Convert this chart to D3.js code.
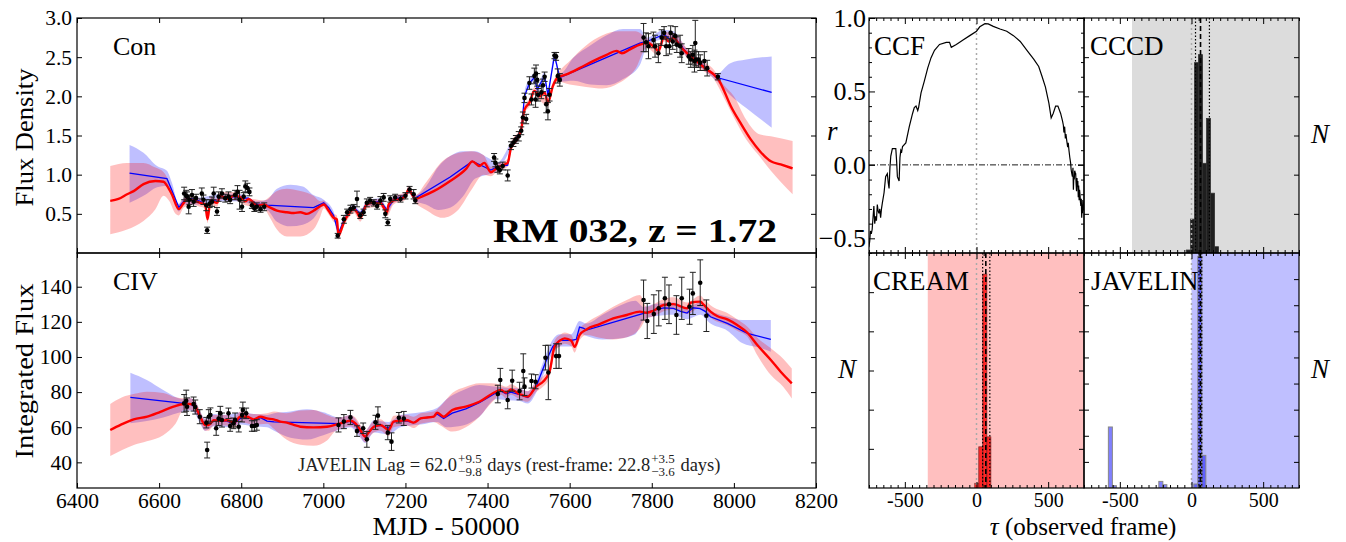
<!DOCTYPE html>
<html><head><meta charset="utf-8">
<script src="https://cdn.jsdelivr.net/npm/d3@7"></script>
<style>
body{margin:0;background:#fff}
text,tspan{font-family:"Liberation Serif","DejaVu Serif",serif}
</style></head>
<body><svg id="c" width="1346" height="542"></svg>
<script>
// ---------------- DATA ----------------
// Continuum (Con) light curve: CREAM model [mjd, flux]
const conCream = [[6481,0.666],[6501,0.69],[6522,0.75],[6538,0.79],[6562,0.88],[6591,0.92],[6611,0.91],[6619,0.86],[6631,0.75],[6648,0.56],[6660,0.64],[6668,0.69],[6684,0.67],[6700,0.64],[6712,0.62],[6718,0.43],[6725,0.67],[6741,0.64],[6749,0.73],[6765,0.69],[6782,0.73],[6798,0.71],[6810,0.66],[6818,0.69],[6830,0.64],[6838,0.60],[6855,0.62],[6863,0.60],[6887,0.54],[6911,0.52],[6928,0.51],[6944,0.52],[6960,0.50],[6976,0.54],[6993,0.60],[7001,0.62],[7013,0.54],[7025,0.45],[7033,0.43],[7037,0.22],[7041,0.26],[7050,0.39],[7062,0.50],[7074,0.56],[7082,0.52],[7090,0.45],[7098,0.54],[7106,0.62],[7123,0.64],[7139,0.64],[7147,0.58],[7155,0.52],[7159,0.62],[7171,0.67],[7188,0.69],[7200,0.73],[7208,0.81],[7216,0.75],[7224,0.69],[7244,0.73],[7269,0.79],[7309,0.92],[7347,1.07],[7363,1.17],[7380,1.11],[7392,1.15],[7408,1.03],[7424,1.09],[7441,1.13],[7449,1.15],[7457,1.34],[7469,1.43],[7482,1.58],[7490,1.83],[7502,1.92],[7514,2.07],[7527,2.00],[7539,2.05],[7547,1.92],[7559,2.13],[7571,2.24],[7592,2.28],[7624,2.36],[7657,2.45],[7690,2.53],[7714,2.58],[7727,2.55],[7747,2.60],[7771,2.66],[7788,2.68],[7804,2.64],[7816,2.58],[7830,2.76],[7841,2.70],[7853,2.75],[7869,2.64],[7886,2.55],[7902,2.48],[7918,2.41],[7935,2.34],[7951,2.28],[7963,2.21],[7976,2.07],[7992,1.88],[8016,1.66],[8041,1.45],[8065,1.29],[8090,1.17],[8114,1.13],[8143,1.08]];
// CREAM band [mjd, lo, hi]
const conCreamBand = [[6481,0.24,1.11],[6522,0.30,1.15],[6562,0.41,1.15],[6591,0.56,1.09],[6611,0.73,1.03],[6625,0.66,0.90],[6640,0.50,0.66],[6648,0.48,0.62],[6660,0.58,0.70],[6684,0.62,0.72],[6700,0.59,0.69],[6712,0.57,0.67],[6718,0.38,0.48],[6725,0.62,0.72],[6741,0.59,0.69],[6749,0.68,0.78],[6782,0.68,0.78],[6810,0.61,0.71],[6830,0.59,0.69],[6855,0.57,0.67],[6870,0.45,0.72],[6887,0.30,0.79],[6911,0.21,0.82],[6944,0.21,0.79],[6976,0.30,0.73],[6993,0.47,0.66],[7001,0.57,0.67],[7013,0.49,0.59],[7025,0.40,0.50],[7033,0.38,0.48],[7037,0.17,0.27],[7041,0.21,0.31],[7050,0.34,0.44],[7062,0.45,0.55],[7074,0.51,0.61],[7090,0.40,0.50],[7106,0.57,0.67],[7139,0.59,0.69],[7155,0.47,0.57],[7171,0.62,0.72],[7200,0.68,0.78],[7208,0.76,0.86],[7224,0.64,0.74],[7250,0.55,0.90],[7290,0.45,1.17],[7330,0.56,1.28],[7360,0.80,1.30],[7390,1.00,1.25],[7408,0.98,1.10],[7424,1.04,1.14],[7449,1.10,1.20],[7457,1.29,1.39],[7482,1.53,1.63],[7490,1.78,1.88],[7502,1.87,1.97],[7514,2.02,2.12],[7527,1.95,2.05],[7547,1.87,1.97],[7559,2.08,2.18],[7571,2.19,2.29],[7600,2.15,2.45],[7640,2.12,2.65],[7680,2.10,2.78],[7720,2.17,2.83],[7760,2.35,2.83],[7788,2.62,2.74],[7816,2.52,2.64],[7830,2.70,2.82],[7853,2.69,2.81],[7886,2.49,2.61],[7918,2.35,2.47],[7951,2.22,2.34],[7976,1.98,2.14],[8000,1.73,2.00],[8030,1.45,1.70],[8060,1.25,1.52],[8090,1.05,1.49],[8143,0.75,1.43]];
// JAVELIN model [mjd, flux]
const conJav = [[6528,1.02],[6619,0.95],[6631,0.80],[6648,0.58],[6660,0.66],[6668,0.70],[6684,0.69],[6700,0.66],[6718,0.60],[6725,0.68],[6741,0.66],[6749,0.72],[6765,0.70],[6782,0.72],[6798,0.70],[6818,0.70],[6838,0.62],[6855,0.62],[6863,0.61],[6976,0.58],[7001,0.64],[7013,0.58],[7025,0.48],[7037,0.25],[7050,0.42],[7074,0.58],[7090,0.50],[7106,0.63],[7139,0.66],[7155,0.55],[7171,0.68],[7200,0.73],[7208,0.80],[7224,0.70],[7309,0.97],[7363,1.17],[7380,1.13],[7408,1.06],[7424,1.10],[7449,1.12],[7457,1.37],[7482,1.56],[7490,2.00],[7502,2.17],[7514,2.24],[7521,2.09],[7539,2.26],[7547,2.02],[7563,2.52],[7576,2.24],[7771,2.68],[7788,2.70],[7830,2.79],[7846,2.72],[7853,2.77],[7869,2.66],[7886,2.55],[7918,2.42],[7959,2.24],[8092,2.05]];
const conJavBand = [[6528,0.64,1.38],[6562,0.73,1.28],[6595,0.84,1.11],[6619,0.86,1.05],[6631,0.74,0.90],[6648,0.53,0.63],[6660,0.62,0.70],[6700,0.62,0.71],[6760,0.66,0.76],[6800,0.66,0.75],[6838,0.58,0.66],[6863,0.55,0.68],[6887,0.40,0.82],[6920,0.34,0.87],[6950,0.36,0.85],[6976,0.44,0.74],[7001,0.60,0.68],[7025,0.44,0.53],[7037,0.21,0.30],[7050,0.38,0.46],[7074,0.54,0.62],[7090,0.46,0.54],[7106,0.59,0.67],[7139,0.62,0.70],[7155,0.51,0.59],[7171,0.64,0.72],[7200,0.69,0.77],[7208,0.76,0.84],[7224,0.66,0.74],[7250,0.62,0.85],[7280,0.55,1.10],[7310,0.58,1.24],[7340,0.72,1.30],[7370,0.95,1.30],[7400,1.00,1.22],[7425,1.05,1.16],[7457,1.33,1.41],[7482,1.52,1.60],[7490,1.94,2.06],[7502,2.12,2.22],[7514,2.19,2.29],[7521,2.04,2.14],[7539,2.21,2.31],[7547,1.97,2.07],[7563,2.46,2.57],[7576,2.19,2.29],[7610,2.20,2.50],[7650,2.15,2.65],[7690,2.14,2.78],[7730,2.22,2.86],[7771,2.40,2.86],[7788,2.63,2.75],[7830,2.73,2.85],[7853,2.71,2.83],[7886,2.50,2.60],[7918,2.37,2.47],[7959,2.19,2.29],[7990,2.02,2.42],[8030,1.85,2.47],[8092,1.60,2.51]];
// observed continuum [mjd, flux, err]
const conObs = [[6661,0.76,0.08],[6666,0.73,0.07],[6668,0.72,0.06],[6672,0.59,0.09],[6674,0.68,0.06],[6680,0.74,0.07],[6684,0.655,0.06],[6690,0.70,0.05],[6704,0.76,0.07],[6708,0.68,0.06],[6715,0.61,0.07],[6717,0.29,0.04],[6723,0.63,0.05],[6729,0.655,0.06],[6733,0.76,0.08],[6741,0.53,0.05],[6745,0.72,0.06],[6753,0.76,0.06],[6761,0.70,0.05],[6769,0.72,0.06],[6773,0.68,0.05],[6785,0.74,0.06],[6791,0.78,0.08],[6796,0.68,0.12],[6802,0.59,0.06],[6806,0.72,0.05],[6810,0.85,0.07],[6815,0.83,0.06],[6820,0.78,0.05],[6826,0.61,0.04],[6832,0.57,0.04],[6838,0.59,0.05],[6847,0.56,0.04],[6856,0.59,0.05],[7035,0.22,0.03],[7050,0.43,0.05],[7058,0.52,0.04],[7066,0.56,0.05],[7074,0.58,0.04],[7082,0.69,0.10],[7090,0.48,0.04],[7098,0.52,0.04],[7106,0.64,0.05],[7114,0.67,0.04],[7123,0.64,0.04],[7131,0.60,0.04],[7139,0.67,0.05],[7147,0.71,0.05],[7151,0.50,0.05],[7157,0.39,0.04],[7163,0.69,0.04],[7175,0.71,0.04],[7188,0.69,0.04],[7200,0.73,0.04],[7210,0.81,0.04],[7220,0.75,0.06],[7224,0.67,0.04],[7416,1.22,0.05],[7419,1.15,0.05],[7424,1.09,0.06],[7430,1.06,0.05],[7437,1.11,0.05],[7449,0.99,0.07],[7457,1.37,0.05],[7463,1.41,0.05],[7469,1.45,0.05],[7476,1.49,0.06],[7482,1.56,0.05],[7486,1.73,0.07],[7490,1.98,0.06],[7494,1.71,0.06],[7502,2.17,0.08],[7507,1.96,0.07],[7514,2.26,0.10],[7517,1.96,0.10],[7518,2.29,0.11],[7521,2.21,0.08],[7523,2.02,0.08],[7531,2.05,0.08],[7535,2.14,0.08],[7539,2.25,0.06],[7543,1.90,0.11],[7547,1.81,0.11],[7551,2.02,0.08],[7563,2.52,0.04],[7567,2.51,0.05],[7571,2.26,0.09],[7576,2.21,0.08],[7780,2.75,0.18],[7786,2.69,0.12],[7792,2.64,0.16],[7804,2.72,0.10],[7808,2.64,0.14],[7816,2.55,0.12],[7824,2.75,0.10],[7830,2.81,0.08],[7835,2.64,0.12],[7843,2.64,0.10],[7846,2.81,0.09],[7851,2.70,0.10],[7857,2.77,0.12],[7861,2.66,0.10],[7869,2.64,0.14],[7873,2.55,0.12],[7890,2.51,0.10],[7895,2.47,0.10],[7900,2.53,0.12],[7904,2.45,0.14],[7906,2.68,0.29],[7908,2.47,0.10],[7914,2.47,0.10],[7918,2.43,0.10],[7928,2.45,0.12],[7935,2.36,0.10],[7961,2.25,0.04]];

// CIV light curve
const civCream = [[6481,58.4],[6506,61.3],[6538,64.5],[6571,66],[6603,68.8],[6635,71.7],[6660,73.2],[6676,73.2],[6688,71.7],[6700,66],[6712,61.3],[6721,61.3],[6733,64],[6749,63.7],[6765,64],[6782,62.6],[6798,66],[6814,66],[6830,64.5],[6847,66],[6863,65],[6879,64.5],[6895,63.2],[6911,62.6],[6928,61.3],[6944,60.3],[6976,59.9],[7009,60.3],[7041,62.2],[7066,63.7],[7078,62.2],[7090,58.4],[7102,54.6],[7110,56.9],[7123,60.3],[7139,61.3],[7159,58.4],[7171,63.2],[7188,63.7],[7204,64],[7220,62.6],[7237,65],[7269,66],[7277,68.3],[7293,66],[7314,69.8],[7347,71.7],[7380,74.5],[7420,80.2],[7433,81.2],[7445,79.7],[7457,81.5],[7478,78.9],[7498,77.4],[7518,83.1],[7535,85.9],[7551,91.6],[7563,105.8],[7576,109.3],[7588,110.6],[7604,109.3],[7612,105.8],[7624,112.5],[7641,115.7],[7673,118.7],[7706,122],[7739,123.9],[7771,125.8],[7788,125.2],[7804,126.3],[7829,129.6],[7853,130.1],[7886,127.7],[7894,130.9],[7918,131.5],[7927,129.6],[7943,125.8],[7959,123.3],[7984,121.4],[8008,118.2],[8033,113.8],[8057,106.8],[8090,98.3],[8114,91.6],[8141,85]];
const civCreamBand = [[6481,43.6,73.2],[6510,47,77],[6540,50,79],[6570,52,80.2],[6610,55.5,79.5],[6640,62,77],[6660,70,76.5],[6676,70,76.5],[6688,68.5,75],[6700,63,69],[6712,58,64.5],[6721,58,64.5],[6733,61,67],[6765,61,67],[6782,59.5,65.5],[6798,63,69],[6830,61.5,67.5],[6863,62,68],[6880,59,69],[6910,53,68],[6944,50,69.5],[6976,49.5,69.8],[7009,52.5,67],[7030,58,65.5],[7041,59,65.5],[7066,60.5,67],[7078,59,65.5],[7090,55,61.5],[7102,51.5,58],[7110,54,60],[7123,57,63.5],[7139,58,64.5],[7159,55,61.5],[7171,60,66.5],[7204,61,67],[7220,59.5,66],[7237,62,68],[7269,63,69],[7285,61,72],[7314,57.5,79.5],[7347,60,83],[7380,66,85],[7410,74,85],[7433,78.5,84],[7445,76.5,83],[7457,78.5,84.5],[7478,76,82],[7498,74.5,80.5],[7518,80,86],[7535,83,89],[7551,88.5,94.5],[7563,102.5,109],[7576,106,112.5],[7588,107.5,114],[7604,106,112.5],[7612,102.5,109],[7624,109.5,116],[7641,112.5,119.5],[7673,111,123.9],[7706,110,128.6],[7739,111.2,132.4],[7771,116,135.3],[7788,122,128.5],[7804,123,130],[7829,126,133],[7853,127,134],[7886,124.5,131],[7918,128,135],[7927,126.5,133],[7943,122.5,129.5],[7984,118,125],[8008,115,121.5],[8033,111.5,117.2],[8057,101,111],[8090,89.7,104.9],[8120,83,99],[8141,76.4,93.5]];
const civJav = [[6530,77],[6660,73.6],[6676,73.2],[6688,71.2],[6700,65.5],[6712,61.5],[6721,62],[6733,64],[6749,63.5],[6765,63.5],[6782,62],[6798,65],[6814,66],[6830,64],[6847,65.5],[6863,63.5],[6880,63],[7040,62],[7066,63.5],[7078,61.5],[7090,57.5],[7102,54.5],[7110,57],[7123,60.5],[7139,61],[7159,59.5],[7171,63],[7188,63.5],[7204,63.5],[7220,62.5],[7237,65],[7269,66],[7277,67.5],[7293,65],[7314,68],[7347,70.5],[7380,74],[7420,79.5],[7433,80.5],[7445,79],[7457,80],[7478,78.5],[7498,77],[7518,83],[7543,98],[7559,106],[7576,109.5],[7604,109.5],[7616,110],[7624,117],[7633,116.5],[7641,115.3],[7780,124.8],[7804,126.5],[7829,128],[7853,127.7],[7870,126],[7886,125],[7900,128],[7918,127.5],[7930,126],[7943,122.9],[7984,119.1],[8033,113.4],[8090,110]];
const civJavBand = [[6530,62.2,91],[6570,63.5,86.9],[6610,65.5,81.2],[6660,69,76],[6676,69.5,76.5],[6688,67.5,75],[6700,62,69],[6712,58,65],[6733,60.5,67.5],[6765,60,67],[6798,61.5,68.5],[6830,60.5,67.5],[6863,60,67],[6880,58,68],[6920,54,69],[6960,53,70.2],[7000,55.5,68.5],[7040,58.5,65.5],[7066,60,67],[7090,54,61],[7102,51,58],[7123,57,64],[7159,56,63],[7188,60,67],[7237,61.5,68.5],[7277,63,71],[7300,60,76],[7340,61,81],[7380,66,84],[7420,76,83],[7445,75.5,82.5],[7478,75,82],[7498,73.5,80.5],[7518,79.5,86.5],[7543,94,102],[7559,102.5,110],[7576,106,113],[7604,106,113],[7624,113.5,120.5],[7641,112,119],[7680,110,124],[7720,110.5,129],[7760,113,132],[7780,121,128.5],[7804,123,130],[7853,124,131],[7886,121.5,128.5],[7918,124,131],[7943,119,126.5],[7984,115,123],[8020,108,121],[8060,105.5,121],[8090,103,121]];
const civObs = [[6661,73.6,5],[6666,75.1,6],[6668,71.7,5],[6684,73.2,4],[6688,71.5,4],[6699,66,4],[6715,62.6,3],[6717,47,4.5],[6721,66,4],[6725,67,4],[6739,59.4,4],[6745,65,4],[6749,67.9,4],[6753,64.1,4],[6769,67.9,3],[6773,60.7,3],[6781,62.2,3],[6785,64.1,4],[6794,60.3,3],[6802,67,4],[6804,69.8,4.5],[6812,67.9,3],[6826,60.7,3],[6832,60.7,3],[6838,61.3,3],[7037,61.3,4],[7050,63.2,4],[7066,65.6,4],[7082,57.8,3],[7097,59.4,3],[7106,53.1,4.5],[7127,62.8,4],[7133,66.6,5],[7157,56.9,4],[7166,51.8,5],[7184,65.4,3],[7196,65,4],[7425,78.9,5],[7431,86.9,6.6],[7449,75.5,5],[7460,86.5,6],[7478,80.6,5],[7487,92,9.8],[7490,83.1,5],[7507,86.3,4],[7517,85.9,4],[7541,99.6,7],[7548,91.2,15.5],[7567,100.5,7],[7574,100.5,7],[7780,132.4,11.4],[7789,120.5,10],[7805,124.4,11],[7817,127.7,10],[7832,133.4,12],[7842,130,11],[7860,123.9,11],[7873,133.4,12],[7892,128.6,10],[7900,136.2,12],[7918,142.3,13],[7933,123.5,9]];

// CCF [tau, r]
const ccf = [[-751,-0.56],[-745,-0.52],[-740,-0.45],[-734,-0.47],[-728,-0.44],[-722,-0.36],[-716,-0.28],[-710,-0.40],[-704,-0.35],[-698,-0.38],[-692,-0.27],[-687,-0.31],[-681,-0.33],[-675,-0.30],[-669,-0.36],[-663,-0.30],[-657,-0.26],[-645,-0.19],[-634,-0.08],[-622,-0.06],[-616,-0.12],[-610,-0.16],[-604,-0.02],[-598,0.06],[-587,0.11],[-563,0.11],[-557,0.02],[-552,-0.08],[-540,-0.11],[-534,0.05],[-528,0.10],[-522,0.09],[-516,0.125],[-493,0.15],[-469,0.26],[-446,0.35],[-434,0.39],[-422,0.40],[-410,0.37],[-404,0.39],[-387,0.49],[-364,0.57],[-340,0.66],[-317,0.73],[-293,0.78],[-258,0.82],[-211,0.834],[-188,0.834],[-176,0.80],[-141,0.82],[-94,0.85],[-47,0.88],[0,0.91],[23,0.94],[59,0.961],[82,0.96],[117,0.943],[164,0.925],[211,0.91],[258,0.88],[305,0.84],[352,0.78],[399,0.72],[434,0.67],[458,0.60],[481,0.53],[505,0.42],[521,0.32],[535,0.35],[552,0.40],[568,0.40],[587,0.35],[600,0.30],[606,0.27],[610,0.22],[615,0.26],[620,0.18],[624,0.21],[629,0.17],[636,0.12],[640,0.15],[645,0.10],[651,0.05],[657,0.01],[660,-0.03],[663,-0.05],[669,-0.08],[673,-0.02],[676,-0.17],[679,-0.08],[682,-0.10],[685,-0.04],[688,-0.05],[692,-0.06],[695,-0.13],[698,-0.18],[701,-0.09],[704,-0.15],[707,-0.11],[710,-0.22],[713,-0.14],[716,-0.24],[719,-0.17],[722,-0.20],[725,-0.25],[728,-0.28],[731,-0.23],[734,-0.36],[737,-0.27],[739,-0.33],[742,-0.24],[745,-0.25],[748,-0.31],[751,-0.28]];

// histograms: [bin left edge, count], bin width in days
const binWidth = 28;
const cccdHist = [[-35,76],[-7,865],[21,4860],[49,5064],[77,2290],[105,3435],[133,1527],[161,160]];
const creamHist = [[-12,120],[16,1051],[44,5460],[72,1305]];
const javHist = [[-580,2337],[-552,88],[-228,253],[-200,126],[16,153],[44,8870],[72,1249]];
// lags [median, lower bound, upper bound]
const cccdLag = [63, 28, 125];
const creamLag = [65, 43, 93];
const javLag = [62.0, 9.8, 9.5];      // value, minus, plus
const restLag = [22.8, 3.6, 3.5];
// allowed lag windows (shaded)
const cccdWindow = [-415, 750];
const creamWindow = [-340, 750];
const javWindow = [0, 750];

const conTicks = [0.5,1.0,1.5,2.0,2.5,3.0];
const civTicks = [40,60,80,100,120,140];
const mjdTicks = [6400,6600,6800,7000,7200,7400,7600,7800,8000,8200];
const tauTicks = [-500,0,500];
const rTicks = [-0.5,0.0,0.5,1.0];

// ---------------- SCALES ----------------
const svg = d3.select("#c");
const xL = d3.scaleLinear().domain([6400,8200]).range([77,816]);
const yCon = d3.scaleLinear().domain([0,3]).range([253,18]);
const yCiv = d3.scaleLinear().domain([25.4,159.2]).range([488,253]);
const xR1 = d3.scaleLinear().domain([-750,750]).range([869,1084]);
const xR2 = d3.scaleLinear().domain([-750,750]).range([1084,1299]);
const yR = d3.scaleLinear().domain([-0.6,1.0]).range([253,18]);
const yNccd = d3.scaleLinear().domain([0,6000]).range([253,18]);
const yNcream = d3.scaleLinear().domain([0,6000]).range([488,253]);
const yNjav = d3.scaleLinear().domain([0,9000]).range([488,253]);

const SERIF = "Liberation Serif, DejaVu Serif, serif";
const defs = svg.append("defs");
function clip(id,x,y){ defs.append("clipPath").attr("id",id).append("rect")
  .attr("x",x.range()[0]).attr("y",y.range()[1]).attr("width",x.range()[1]-x.range()[0]).attr("height",y.range()[0]-y.range()[1]); return "url(#"+id+")"; }

// ---------------- LIGHT CURVES ----------------
function lightCurve(id, y, cream, creamBand, jav, javBand, obs){
  const g = svg.append("g").attr("clip-path", clip(id,xL,y));
  const area = d3.area().x(d=>xL(d[0])).y0(d=>y(d[1])).y1(d=>y(d[2])).curve(d3.curveMonotoneX);
  g.append("path").datum(javBand).attr("d",area).attr("fill","rgba(0,0,255,0.25)");
  g.append("path").datum(creamBand).attr("d",area).attr("fill","rgba(255,0,0,0.25)");
  g.append("path").datum(jav).attr("d",d3.line().x(d=>xL(d[0])).y(d=>y(d[1])))
    .attr("fill","none").attr("stroke","#0000ff").attr("stroke-width",1.3);
  g.append("path").datum(cream).attr("d",d3.line().x(d=>xL(d[0])).y(d=>y(d[1])).curve(d3.curveMonotoneX))
    .attr("fill","none").attr("stroke","#ff0000").attr("stroke-width",2.4);
  const eb = g.append("g").attr("stroke","#222").attr("stroke-width",1);
  obs.forEach(d=>{
    const x = xL(d[0]), y0 = y(d[1]-d[2]), y1 = y(d[1]+d[2]);
    eb.append("line").attr("x1",x).attr("x2",x).attr("y1",y0).attr("y2",y1);
    eb.append("line").attr("x1",x-3).attr("x2",x+3).attr("y1",y0).attr("y2",y0);
    eb.append("line").attr("x1",x-3).attr("x2",x+3).attr("y1",y1).attr("y2",y1);
  });
  g.append("g").selectAll("circle").data(obs).join("circle")
    .attr("cx",d=>xL(d[0])).attr("cy",d=>y(d[1])).attr("r",2.3).attr("fill","#000");
}
lightCurve("cpCon", yCon, conCream, conCreamBand, conJav, conJavBand, conObs);
lightCurve("cpCiv", yCiv, civCream, civCreamBand, civJav, civJavBand, civObs);

// ---------------- AXES HELPERS ----------------
function axis(gen, scale, pos, vals, size, fmt, pad, fs){
  const a = gen(scale).tickValues(vals).tickSize(-size).tickPadding(pad).tickFormat(fmt||"");
  const g = svg.append("g").attr("transform",pos).call(a);
  g.select(".domain").remove();
  g.selectAll("line").attr("stroke","#000").attr("stroke-width",1);
  g.attr("font-family",SERIF);
  g.selectAll("text").attr("font-family",SERIF).attr("font-size",fs||20).attr("fill","#000");
  return g;
}
function frame(x,y){
  svg.append("rect").attr("x",x.range()[0]).attr("y",y.range()[1])
    .attr("width",x.range()[1]-x.range()[0]).attr("height",y.range()[0]-y.range()[1])
    .attr("fill","none").attr("stroke","#000").attr("stroke-width",1.2);
}
const fmt1 = d3.format(".1f");
const plain = d=>String(d);

// left panels axes
[[yCon,conTicks,fmt1],[yCiv,civTicks,plain]].forEach(([y,tv,f],i)=>{
  axis(d3.axisLeft, y, `translate(${xL.range()[0]},0)`, tv, 5, f, 5, 21.5);
  axis(d3.axisRight, y, `translate(${xL.range()[1]},0)`, tv, 5);
  axis(d3.axisTop, xL, `translate(0,${y.range()[1]})`, mjdTicks, 5);
  axis(d3.axisBottom, xL, `translate(0,${y.range()[0]})`, mjdTicks, 5, i===1?plain:null, 5, 21.5);
  frame(xL,y);
});

// ---------------- RIGHT PANELS ----------------
function span(x,y,win,color){
  svg.append("rect").attr("x",x(win[0])).attr("y",y.range()[1]).attr("width",x(win[1])-x(win[0]))
    .attr("height",y.range()[0]-y.range()[1]).attr("fill",color);
}
function vline(x,y,v,color,dash,w){
  svg.append("line").attr("x1",x(v)).attr("x2",x(v)).attr("y1",y.range()[1]).attr("y2",y.range()[0])
    .attr("stroke",color).attr("stroke-dasharray",dash).attr("stroke-width",w);
}
function hist(id,x,yN,data,fill,stroke,sw){
  const g = svg.append("g").attr("clip-path",clip(id,x,yN));
  g.selectAll("rect").data(data).join("rect")
    .attr("x",d=>x(d[0])).attr("width",d=>x(d[0]+binWidth)-x(d[0]))
    .attr("y",d=>yN(d[1])).attr("height",d=>yN(0)-yN(d[1]))
    .attr("fill",fill).attr("stroke",stroke).attr("stroke-width",sw);
}
function tauAxes(x,y,labels){
  const minor = d3.range(-750,751,50).filter(v=>v%500!==0);
  axis(d3.axisTop, x, `translate(0,${y.range()[1]})`, minor, 3);
  axis(d3.axisTop, x, `translate(0,${y.range()[1]})`, tauTicks, 6);
  axis(d3.axisBottom, x, `translate(0,${y.range()[0]})`, minor, 3);
  axis(d3.axisBottom, x, `translate(0,${y.range()[0]})`, tauTicks, 6, labels?plain:null, 5, 20);
}
function nAxes(x,yN){
  const tv = d3.range(1000, yN.domain()[1], 1000);
  axis(d3.axisLeft, yN, `translate(${x.range()[0]},0)`, tv, 5);
  axis(d3.axisRight, yN, `translate(${x.range()[1]},0)`, tv, 5);
}

// CCF panel
vline(xR1,yR,0,"#aaa","2,3",1.5);
svg.append("line").attr("x1",xR1.range()[0]).attr("x2",xR1.range()[1]).attr("y1",yR(0)).attr("y2",yR(0))
  .attr("stroke","#000").attr("stroke-dasharray","6,2,1,2").attr("stroke-width",0.9);
svg.append("g").attr("clip-path",clip("cpCcf",xR1,yR)).append("path").datum(ccf)
  .attr("d",d3.line().x(d=>xR1(d[0])).y(d=>yR(d[1]))).attr("fill","none").attr("stroke","#000").attr("stroke-width",1.2);
const rMinor = d3.range(-6,11).map(v=>v/10).filter(v=>Math.abs(v*2-Math.round(v*2))>1e-6);
axis(d3.axisLeft, yR, `translate(${xR1.range()[0]},0)`, rMinor, 3);
axis(d3.axisRight, yR, `translate(${xR1.range()[1]},0)`, rMinor, 3);
axis(d3.axisLeft, yR, `translate(${xR1.range()[0]},0)`, rTicks, 6, fmt1, 3, 26);
axis(d3.axisRight, yR, `translate(${xR1.range()[1]},0)`, rTicks, 6);
tauAxes(xR1,yR,false);

// CCCD panel
span(xR2,yNccd,cccdWindow,"#dcdcdc");
hist("cpCccd",xR2,yNccd,cccdHist,"rgba(0,0,0,0.86)","#333",0.8);
vline(xR2,yNccd,0,"#aaa","2,3",1.5);
vline(xR2,yNccd,cccdLag[0],"#000","5,3",1.6);
vline(xR2,yNccd,cccdLag[1],"#000","1.5,2",1.2);
vline(xR2,yNccd,cccdLag[2],"#000","1.5,2",1.2);
nAxes(xR2,yNccd); tauAxes(xR2,yNccd,false);

// CREAM panel
span(xR1,yNcream,creamWindow,"#ffbfbf");
hist("cpCream",xR1,yNcream,creamHist,"rgba(255,0,0,0.8)","#8a2a2a",0.8);
vline(xR1,yNcream,0,"#aaa","2,3",1.5);
vline(xR1,yNcream,creamLag[0],"#000","5,3",1.6);
vline(xR1,yNcream,creamLag[1],"#000","1.5,2",1.2);
vline(xR1,yNcream,creamLag[2],"#000","1.5,2",1.2);
nAxes(xR1,yNcream); tauAxes(xR1,yNcream,true);

// JAVELIN panel
span(xR2,yNjav,javWindow,"#bfbfff");
hist("cpJav",xR2,yNjav,javHist,"rgba(0,0,255,0.5)","#888",1);
vline(xR2,yNjav,0,"#aaa","2,3",1.5);
vline(xR2,yNjav,javLag[0],"#000","5,3",1.6);
vline(xR2,yNjav,javLag[0]-javLag[1],"#000","1.5,2",1.2);
vline(xR2,yNjav,javLag[0]+javLag[2],"#000","1.5,2",1.2);
nAxes(xR2,yNjav); tauAxes(xR2,yNjav,true);

[[xR1,yR],[xR2,yNccd],[xR1,yNcream],[xR2,yNjav]].forEach(([x,y])=>frame(x,y));

// ---------------- TEXT ----------------
function txt(x,y,s,fs,opt){
  opt=opt||{};
  const t = svg.append("text").attr("x",x).attr("y",y).attr("font-size",fs).attr("font-family",SERIF).text(s)
    .attr("fill",opt.fill||"#000").attr("text-anchor",opt.anchor||"start");
  if(opt.italic) t.attr("font-style","italic");
  if(opt.bold) t.attr("font-weight","bold");
  if(opt.rot) t.attr("transform",`rotate(-90,${x},${y})`);
  if(opt.len) t.attr("textLength",opt.len).attr("lengthAdjust","spacingAndGlyphs");
  return t;
}
txt(113,54.5,"Con",26);
txt(113,289.5,"CIV",26);
txt(493,242,"RM 032, z = 1.72",33,{bold:true,len:284});
txt(33,137.5,"Flux Density",26,{anchor:"middle",rot:true,len:138});
txt(33,371,"Integrated Flux",26,{anchor:"middle",rot:true,len:175});
txt(446,535,"MJD - 50000",26,{anchor:"middle",len:147});
txt(874,55,"CCF",27);
txt(1090,55,"CCCD",27);
txt(873,290,"CREAM",27);
txt(1091,290,"JAVELIN",27);
txt(827,140,"r",27,{italic:true});
txt(1311,143,"N",27,{italic:true});
txt(838,378,"N",27,{italic:true});
txt(1311,378,"N",27,{italic:true});
// tau label
(function(){
  const t = svg.append("text").attr("x",1083).attr("y",535).attr("font-size",25)
    .attr("font-family",SERIF).attr("text-anchor","middle");
  t.append("tspan").attr("font-family",SERIF).attr("font-style","italic").text("τ");
  t.append("tspan").attr("font-family",SERIF).text("\u00a0(observed frame)");
})();

// lag annotation
(function(){
  const g = svg.append("g").attr("fill","#222").attr("font-family",SERIF);
  let x = 298; const y = 471, fs = 18.5, fss = 13;
  const parts = [["t",`JAVELIN Lag = ${javLag[0].toFixed(1)}`],["s",`+${javLag[2].toFixed(1)}`,`−${javLag[1].toFixed(1)}`],
    ["t",`\u00a0days (rest-frame: ${restLag[0].toFixed(1)}`],["s",`+${restLag[2].toFixed(1)}`,`−${restLag[1].toFixed(1)}`],["t","\u00a0days)"]];
  parts.forEach(p=>{
    if(p[0]==="t"){ const t=g.append("text").attr("x",x).attr("y",y).attr("font-size",fs).text(p[1]); x+=t.node().getComputedTextLength(); }
    else { const a=g.append("text").attr("x",x+1).attr("y",y-8.5).attr("font-size",fss).text(p[1]);
           const b=g.append("text").attr("x",x+1).attr("y",y+4.5).attr("font-size",fss).text(p[2]);
           x+=Math.max(a.node().getComputedTextLength(),b.node().getComputedTextLength())+2; }
  });
})();
</script></body></html>
